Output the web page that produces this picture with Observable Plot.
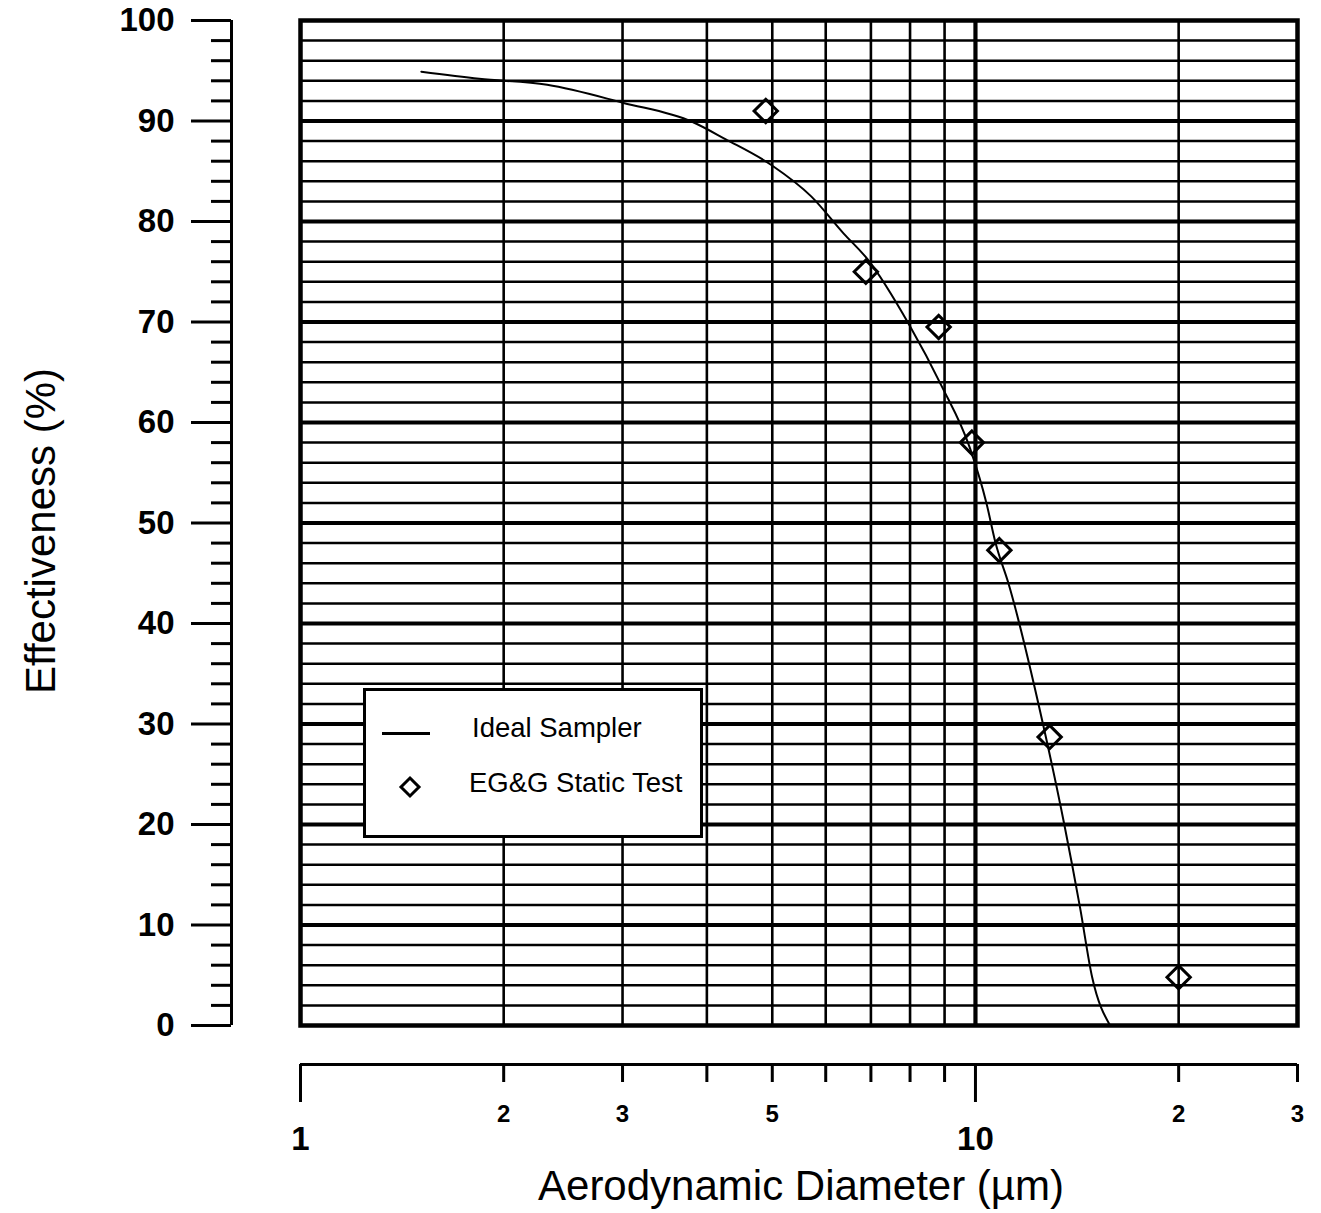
<!DOCTYPE html>
<html>
<head>
<meta charset="utf-8">
<script src="https://cdn.jsdelivr.net/npm/d3@7"></script>
<script src="https://cdn.jsdelivr.net/npm/@observablehq/plot@0.6"></script>
<style>
  html, body { margin: 0; padding: 0; background: #fff; }
  #wrap { position: relative; width: 1321px; height: 1213px; overflow: hidden; }
  #legend {
    position: absolute; left: 363px; top: 688px; width: 334px; height: 144px;
    border: 3px solid #000; background: #fff;
    font-family: "Liberation Sans", Arial, Helvetica, sans-serif; color: #000;
  }
  #legend .lbl { position: absolute; font-size: 27.5px; line-height: 28px; white-space: nowrap; }
  #legend .swline { position: absolute; left: 16px; top: 41px; width: 48px; height: 2.5px; background: #000; }
  #legend svg { position: absolute; }
</style>
</head>
<body>
<div id="wrap"></div>
<script>
// ---- data ----
const xDomain = [1, 30];
const yDomain = [0, 100];

// Ideal Sampler curve (aerodynamic diameter µm, effectiveness %)
const idealDiameter = [1.51, 1.84, 2.32, 3.01, 3.81, 4.26, 4.99, 5.71, 6.38, 6.91, 7.98, 8.90, 9.82, 10.38, 10.71, 11.19, 12.59, 13.54, 14.29, 14.89, 15.83];
const idealEffectiveness = [94.9, 94.2, 93.6, 91.8, 89.9, 88.2, 85.6, 82.5, 78.8, 76.3, 69.7, 63.7, 57.4, 52.0, 48.0, 44.0, 30.0, 20.0, 11.7, 4.8, 0];

// EG&G Static Test points
const testDiameter = [4.89, 6.88, 8.82, 9.88, 10.85, 12.88, 20.0];
const testEffectiveness = [91.0, 75.0, 69.5, 58.0, 47.3, 28.7, 4.8];

// grid & ticks
const yMajorGrid = [10, 20, 30, 40, 50, 60, 70, 80, 90];
const yMinorGrid = [2,4,6,8,12,14,16,18,22,24,26,28,32,34,36,38,42,44,46,48,52,54,56,58,62,64,66,68,72,74,76,78,82,84,86,88,92,94,96,98];
const xMinorGrid = [2, 3, 4, 5, 6, 7, 8, 9, 20];
const xMajorGrid = [10];

const yMajorTicks = [0, 10, 20, 30, 40, 50, 60, 70, 80, 90, 100];
const yMinorTicks = [2,4,6,8,12,14,16,18,22,24,26,28,32,34,36,38,42,44,46,48,52,54,56,58,62,64,66,68,72,74,76,78,82,84,86,88,92,94,96,98];
const xMajorTicks = [1, 10];
const xMajorLabels = ["1", "10"];
const xMinorLabeledTicks = [2, 3, 5, 20, 30];
const xMinorLabels = ["2", "3", "5", "2", "3"];
const xMinorUnlabeledTicks = [4, 6, 7, 8, 9];

const xTitle = "Aerodynamic Diameter (µm)";
const yTitle = "Effectiveness (%)";
const seriesNames = ["Ideal Sampler", "EG&G Static Test"];

// ---- build ----
const FONT = '"Liberation Sans", Arial, Helvetica, sans-serif';
const ideal = idealDiameter.map((d, i) => ({d, e: idealEffectiveness[i]}));
const test = testDiameter.map((d, i) => ({d, e: testEffectiveness[i]}));

const AX_DX = -69;   // offset of the detached y axis
const AX_DY = 39;    // offset of the detached x axis

const chart = Plot.plot({
  width: 1321,
  height: 1213,
  marginLeft: 300,
  marginRight: 24,
  marginTop: 20,
  marginBottom: 188,
  style: {fontFamily: FONT, color: "#000", background: "#fff", overflow: "visible"},
  x: {type: "log", domain: xDomain, axis: null},
  y: {domain: yDomain, axis: null},
  marks: [
    Plot.ruleY(yMinorGrid, {stroke: "#000", strokeWidth: 2.5}),
    Plot.ruleY(yMajorGrid, {stroke: "#000", strokeWidth: 4}),
    Plot.ruleX(xMinorGrid, {stroke: "#000", strokeWidth: 2.6}),
    Plot.ruleX(xMajorGrid, {stroke: "#000", strokeWidth: 4.2}),
    Plot.frame({stroke: "#000", strokeWidth: 4.5}),
    Plot.line(ideal, {x: "d", y: "e", curve: "monotone-x", stroke: "#000", strokeWidth: 2}),
    Plot.dot(test, {x: "d", y: "e", symbol: "diamond2", r: 10.5, stroke: "#000", strokeWidth: 3, fill: "none"}),

    // detached y axis
    Plot.ruleX([xDomain[0]], {y1: yDomain[0], y2: yDomain[1], dx: AX_DX, stroke: "#000", strokeWidth: 3}),
    Plot.axisY(yMajorTicks, {anchor: "left", dx: AX_DX, tickSize: 40, tickPadding: 17, fontSize: 33, fontWeight: "bold", strokeWidth: 3, tickFormat: d => String(d), label: null}),
    Plot.axisY(yMinorTicks, {anchor: "left", dx: AX_DX, tickSize: 20, strokeWidth: 3, fill: "none", label: null}),

    // detached x axis
    Plot.ruleY([yDomain[0]], {x1: xDomain[0], x2: xDomain[1], dy: AX_DY, stroke: "#000", strokeWidth: 3}),
    Plot.axisX(xMajorTicks, {anchor: "bottom", dy: AX_DY, tickSize: 38, tickPadding: 24, fontSize: 33, fontWeight: "bold", strokeWidth: 3, tickFormat: d => xMajorLabels[xMajorTicks.indexOf(d)], label: null}),
    Plot.axisX(xMinorLabeledTicks, {anchor: "bottom", dy: AX_DY, tickSize: 18, tickPadding: 22, fontSize: 24, fontWeight: "bold", strokeWidth: 3, tickFormat: d => xMinorLabels[xMinorLabeledTicks.indexOf(d)], label: null}),
    Plot.axisX(xMinorUnlabeledTicks, {anchor: "bottom", dy: AX_DY, tickSize: 18, strokeWidth: 3, fill: "none", label: null}),

    // axis titles
    Plot.text([yTitle], {text: d => d, frameAnchor: "left", rotate: -90, dx: -259, dy: 8, fontSize: 42, textAnchor: "middle", lineAnchor: "middle", fill: "#000"}),
    Plot.text([xTitle], {text: d => d, frameAnchor: "bottom", dx: 2, dy: 161, fontSize: 42, textAnchor: "middle", lineAnchor: "middle", fill: "#000"})
  ]
});

const wrap = document.getElementById("wrap");
wrap.appendChild(chart);

// legend (boxed, inside plot area)
const legend = document.createElement("div");
legend.id = "legend";
legend.innerHTML = `
  <div class="swline"></div>
  <div class="lbl" style="left:106px;top:23px;">${seriesNames[0]}</div>
  <svg width="24" height="24" style="left:32px;top:84px;" viewBox="0 0 24 24">
    <polygon points="12,3 21,12 12,21 3,12" fill="none" stroke="#000" stroke-width="3"/>
  </svg>
  <div class="lbl" style="left:103px;top:78px;">${seriesNames[1].replace("&", "&amp;")}</div>`;
wrap.appendChild(legend);
</script>
</body>
</html>
